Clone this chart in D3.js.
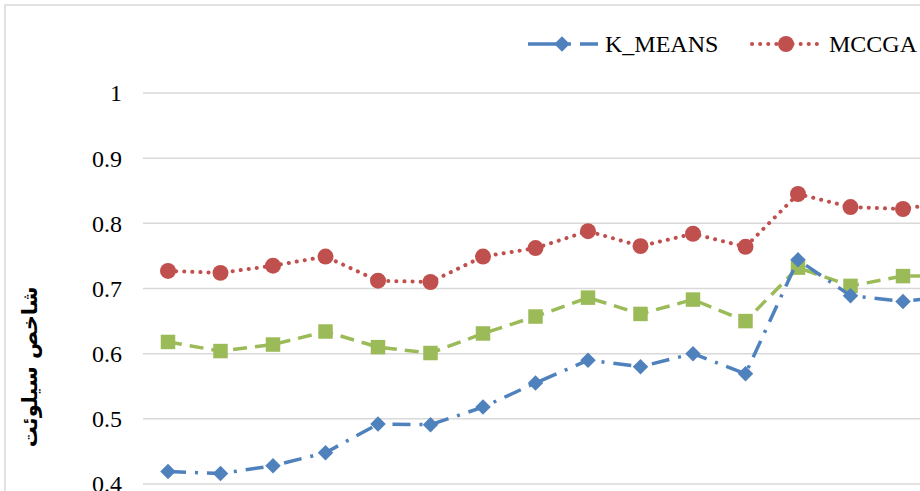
<!DOCTYPE html>
<html>
<head>
<meta charset="utf-8">
<script src="https://cdn.jsdelivr.net/npm/d3@7"></script>
</head>
<body style="margin:0">
<svg id="chart" width="920" height="491"></svg>
<script>
// Run index (x categories)
const categories = [1, 2, 3, 4, 5, 6, 7, 8, 9, 10, 11, 12, 13, 14, 15, 16];

// Silhouette index per method
const kmeans = [0.419, 0.416, 0.428, 0.448, 0.492, 0.491, 0.518, 0.555, 0.590, 0.580, 0.600, 0.569, 0.744, 0.689, 0.680, 0.690];
const mccga  = [0.727, 0.724, 0.735, 0.749, 0.712, 0.710, 0.749, 0.762, 0.788, 0.765, 0.784, 0.764, 0.845, 0.825, 0.822, 0.835];
const third  = [0.618, 0.604, 0.614, 0.634, 0.610, 0.601, 0.631, 0.657, 0.686, 0.661, 0.683, 0.650, 0.732, 0.704, 0.719, 0.720];

const yTicks = [0.4, 0.5, 0.6, 0.7, 0.8, 0.9, 1];
const yTitle = "شاخص سیلوئت";
const legendLabels = ["K_MEANS", "MCCGA"];

const SERIF = '"Liberation Serif", Tinos, "Times New Roman", serif';

const svg = d3.select("#chart");
const W = 920, H = 491;

// outer chart frame
svg.append("rect")
  .attr("x", 5).attr("y", 5)
  .attr("width", W + 20).attr("height", H + 20)
  .attr("fill", "#fff")
  .attr("stroke", "#d9d9d9").attr("stroke-width", 1.5);

const plotLeft = 143;
const x = d3.scalePoint().domain(categories).range([168, 168 + 52.5 * (categories.length - 1)]);
const y = d3.scaleLinear().domain([0.4, 1]).range([484, 93]);

// gridlines
svg.append("g")
  .selectAll("line")
  .data(yTicks)
  .join("line")
  .attr("x1", plotLeft).attr("x2", W + 10)
  .attr("y1", d => y(d)).attr("y2", d => y(d))
  .attr("stroke", "#d9d9d9").attr("stroke-width", 1.5);

// y axis labels
const yAxis = d3.axisLeft(y).tickValues(yTicks).tickSize(0).tickPadding(0)
  .tickFormat(d => d3.format("")(d));
const gy = svg.append("g").attr("transform", "translate(122,0)").call(yAxis);
gy.attr("font-family", SERIF).attr("font-size", 24);
gy.select(".domain").remove();
gy.selectAll("text")
  .style("font-family", SERIF)
  .style("font-size", "24px")
  .attr("fill", "#000")
  .attr("dy", "0.33em");

// y axis title
svg.append("text")
  .attr("transform", "translate(37,367) rotate(-90)")
  .attr("text-anchor", "middle")
  .style("font-family", '"DejaVu Sans", sans-serif')
  .style("font-weight", "bold")
  .style("font-size", "21px")
  .attr("fill", "#000")
  .text(yTitle);

const series = [
  { name: "green", values: third, color: "#9BBB59", dash: "14,8", cap: "butt", marker: "square", width: 3.5 },
  { name: "MCCGA", values: mccga, color: "#C0504D", dash: "0.1,8", cap: "round", marker: "circle", width: 4 },
  { name: "K_MEANS", values: kmeans, color: "#4F81BD", dash: "18,9,3,9", cap: "butt", marker: "diamond", width: 3.5 }
];

const line = d3.line().x((d, i) => x(categories[i])).y(d => y(d));

const symbolFor = {
  square: { sym: d3.symbol().type(d3.symbolSquare).size(210), rot: 0 },
  circle: { sym: d3.symbol().type(d3.symbolCircle).size(200), rot: 0 },
  diamond: { sym: d3.symbol().type(d3.symbolSquare).size(120), rot: 45 }
};

series.forEach(s => {
  const g = svg.append("g");
  g.append("path")
    .attr("d", line(s.values))
    .attr("fill", "none")
    .attr("stroke", s.color)
    .attr("stroke-width", s.width)
    .attr("stroke-dasharray", s.dash)
    .attr("stroke-linecap", s.cap)
    .attr("stroke-linejoin", "round");
  const m = symbolFor[s.marker];
  g.selectAll("path.m")
    .data(s.values)
    .join("path")
    .attr("class", "m")
    .attr("transform", (d, i) => `translate(${x(categories[i])},${y(d)}) rotate(${m.rot})`)
    .attr("d", m.sym())
    .attr("fill", s.color);
});

// legend keys
const legendItems = [
  { s: series[2], x0: 528 },
  { s: series[1], x0: 752 }
];
const ly = 44;
legendItems.forEach(it => {
  svg.append("line")
    .attr("x1", it.x0).attr("x2", it.x0 + 70)
    .attr("y1", ly).attr("y2", ly)
    .attr("stroke", it.s.color)
    .attr("stroke-width", it.s.width)
    .attr("stroke-dasharray", it.s.marker === "diamond" ? "33,7,3,9,8,0" : it.s.dash)
    .attr("stroke-linecap", it.s.cap);
  const m = symbolFor[it.s.marker];
  svg.append("path")
    .attr("transform", `translate(${it.x0 + 34},${ly}) rotate(${m.rot})`)
    .attr("d", m.sym())
    .attr("fill", it.s.color);
});

// legend labels
svg.selectAll("text.leg")
  .data(legendLabels)
  .join("text")
  .attr("class", "leg")
  .attr("x", (d, i) => legendItems[i].x0 + 77)
  .attr("y", ly)
  .attr("dy", "0.33em")
  .style("font-family", SERIF)
  .style("font-size", "24px")
  .attr("fill", "#000")
  .text(d => d);
</script>
</body>
</html>
